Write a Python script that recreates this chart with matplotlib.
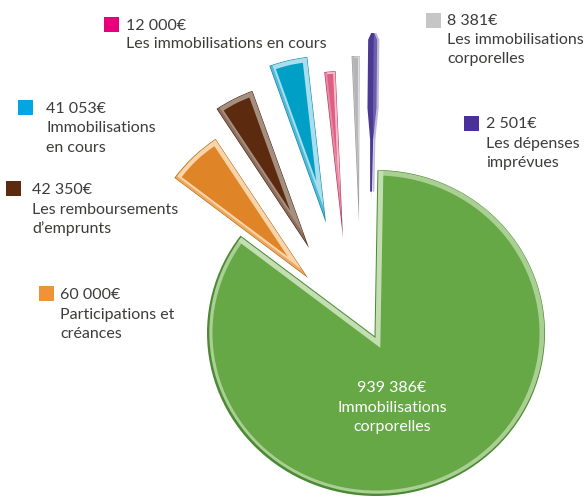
import numpy as np
import matplotlib
matplotlib.use("Agg")
import matplotlib.pyplot as plt
from matplotlib.patches import Ellipse, Polygon, Rectangle, Wedge

plt.rcParams['font.family'] = ['Lato', 'DejaVu Sans']

# donnees
labels = ["Immobilisations corporelles", "Participations et créances", "Les remboursements d’emprunts",
          "Immobilisations en cours", "Les immobilisations en cours", "Les immobilisations corporelles",
          "Les dépenses imprévues"]
values = [939386, 60000, 42350, 41053, 12000, 8381, 2501]
value_text = ["939 386€", "60 000€", "42 350€", "41 053€", "12 000€", "8 381€", "2 501€"]
label_lines = [["Immobilisations", "corporelles"], ["Participations et", "créances"],
               ["Les remboursements", "d’emprunts"], ["Immobilisations", "en cours"],
               ["Les immobilisations en cours"], ["Les immobilisations", "corporelles"],
               ["Les dépenses", "imprévues"]]

# style : edge, band, light, main
colors = [("#4a8a34", "#a9cf92", "#c3deb1", "#66a746"),
          ("#a8651a", "#efa95c", "#fbd5aa", "#df8528"),
          ("#4a2008", "#8d6e5c", "#a58f81", "#5c2a0e"),
          ("#0b7f9f", "#4fb9d6", "#a8deee", "#00a0c6"),
          ("#a83a5c", "#ee88a4", "#f7bccb", "#dd5f86"),
          ("#9a9a9a", "#c4c4c6", "#e4e4e6", "#b4b4b6"),
          ("#3a2a80", "#5a4a9f", "#8a7cc0", "#4b3a94")]
swatches = ["", "#ef9338", "#5c2a0e", "#00a7e0", "#e6007e", "#c6c6c6", "#4b2f9b"]
insets = [5, 5, 5, 5, 2.5, 1.5, 0.8]
# decalage de chaque part depuis le centre (px, y vers le haut)
offsets = [(0, 0), (-68, 55), (-67, 85), (-50, 110), (-33, 95), (-17, 110), (-5, 133)]
swatch_xy = [None, (39, 286), (6, 181), (18, 100), (104, 17), (426, 13), (464, 116)]
text_xy = [(392, 388), (60, 295), (32, 190), (46, 109), (126, 26), (447, 21), (486, 124)]
line_gap = [20, 19.5, 20, 19.5, 18.5, 19.5, 20]

W, H = 586, 497
cx, cy = 376, H - 333
rx, ry = 169, 163
radius = 167
fsize = 11.5

fig = plt.figure(figsize=(W / 100, H / 100), dpi=100)
ax = fig.add_axes([0, 0, 1, 1])
wedges, _ = ax.pie(values, startangle=89, counterclock=False, center=(cx, cy), radius=radius, frame=True)
ax.set_xlim(0, W)
ax.set_ylim(0, H)
ax.set_aspect('auto')
ax.axis('off')


def inset_wedge(center, r, t1, t2, d, **kw):
    half = np.radians(t2 - t1) / 2
    mid = np.radians(t1 + t2) / 2
    s = d / np.sin(half)
    c = (center[0] + s * np.cos(mid), center[1] + s * np.sin(mid))
    rr = r - d - s
    if rr <= 0:
        return None
    return Wedge(c, rr, t1, t2, **kw)


# la grande part : disque + encoche
apex = (374.5, H - 336)
edge, band, light, main = colors[0]
for w in wedges:
    w.set_visible(False)
ax.add_patch(Ellipse((cx, cy), 2 * rx, 2 * ry, fc=edge, ec='none'))
band_disc = Ellipse((cx + 0.8, cy + 0.8), 2 * rx - 3, 2 * ry - 3, fc=band, ec='none')
ax.add_patch(band_disc)
ax.add_patch(Ellipse((cx, cy), 2 * rx - 11, 2 * ry - 11, fc=main, ec='none'))

# l'encoche est le complement de la part verte
t_a, t_b = np.radians(wedges[0].theta2), np.radians(wedges[0].theta1 + 360)
t_mid = (t_a + t_b) / 2
half = (t_b - t_a) / 2
far = 400


def notch(d):
    a = (apex[0] - d / np.sin(half) * np.cos(t_mid), apex[1] - d / np.sin(half) * np.sin(t_mid))
    pts = [a, (a[0] + far * np.cos(t_a), a[1] + far * np.sin(t_a)),
           (a[0] + far * np.cos(t_b), a[1] + far * np.sin(t_b))]
    return pts


dark_notch = Polygon(notch(1), fc=edge, ec='none')
band_notch = Polygon(notch(6), fc=light, ec='none')
ax.add_patch(band_notch)
band_notch.set_clip_path(band_disc)
ax.add_patch(dark_notch)
dark_notch.set_clip_path(band_disc)
ax.add_patch(Polygon(notch(0), fc='white', ec='none'))

# les petites parts
for i in range(1, len(values)):
    w = wedges[i]
    t1, t2 = w.theta1, w.theta2
    c = (cx + offsets[i][0], cy + offsets[i][1])
    edge, band, light, main = colors[i]
    ax.add_patch(Wedge(c, radius, t1, t2, fc=edge, ec='none'))
    b = inset_wedge(c, radius, t1, t2, 0.6, fc=band, ec='none')
    if b is not None:
        ax.add_patch(b)
        l = inset_wedge((c[0] + 2, c[1] + 1.5), radius, t1, t2, 0.6, fc=light, ec='none')
        if l is not None:
            ax.add_patch(l)
            l.set_clip_path(b)
    if i == len(values) - 1:
        # la part violette s'elargit vers l'exterieur
        mid = np.radians((t1 + t2) / 2)
        ux, uy = np.cos(mid), np.sin(mid)
        nx, ny = -uy, ux
        fr = np.array([0.05, 0.36, 0.55, 0.96, 1.0]) * radius
        wd = np.array([1.0, 1.5, 4.5, 4.5, 1.5])
        top = np.column_stack([c[0] + fr * ux + wd * nx, c[1] + fr * uy + wd * ny])
        bot = np.column_stack([c[0] + fr * ux - wd * nx, c[1] + fr * uy - wd * ny])
        ax.add_patch(Polygon(np.vstack([top, bot[::-1]]), fc=main, ec='none'))
        top = np.column_stack([c[0] + fr * ux + 0.25 * wd * nx, c[1] + fr * uy + 0.25 * wd * ny])
        ax.add_patch(Polygon(np.vstack([top, bot[::-1]]) + [2.2, 0], fc=light, ec='none', alpha=0.55, zorder=3))
    m = inset_wedge(c, radius, t1, t2, insets[i], fc=main, ec='none')
    if m is not None:
        ax.add_patch(m)

# textes
for i in range(len(values)):
    col = 'white' if i == 0 else '#3c3c3b'
    ha = 'center' if i == 0 else 'left'
    x, y = text_xy[i]
    ax.text(x, H - y, value_text[i], fontsize=fsize, color=col, ha=ha, va='center')
    for j, line in enumerate(label_lines[i]):
        ax.text(x, H - (y + line_gap[i] + j * 19), line, fontsize=fsize, color=col, ha=ha, va='center')
    if swatches[i]:
        sx, sy = swatch_xy[i]
        ax.add_patch(Rectangle((sx, H - sy - 15), 15, 15, fc=swatches[i], ec='none'))

fig.savefig("out.png", dpi=100)
